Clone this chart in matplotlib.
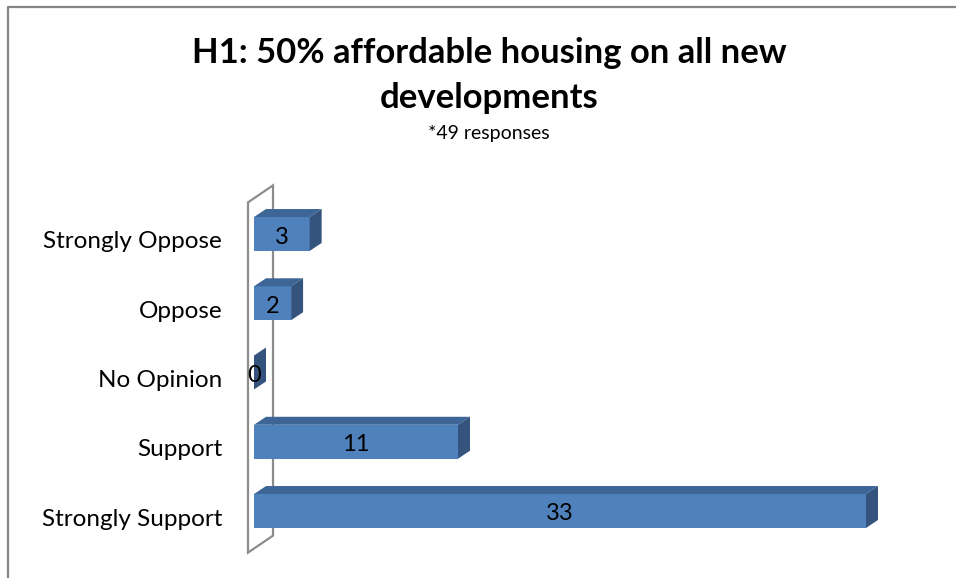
import matplotlib
matplotlib.use("Agg")
import matplotlib.pyplot as plt
from matplotlib.patches import Polygon
from matplotlib.lines import Line2D
from matplotlib.transforms import offset_copy, IdentityTransform

plt.rcParams["font.family"] = ["Lato", "DejaVu Sans"]

categories = ["Strongly Support", "Support", "No Opinion", "Oppose", "Strongly Oppose"]
counts = [33, 11, 0, 2, 3]
title_lines = ["H1: 50% affordable housing on all new", "developments"]
subtitle = "*49 responses"

W, H = 956, 578
front_col = "#4F81BD"
top_col = "#3D6696"
side_col = "#34547E"
wall_col = "#8C8C8C"
depth = (12, 8)        # bar depth in pixels (right, up)
wall_depth = (25, 17)  # side wall depth in pixels

fig = plt.figure(figsize=(W / 100, H / 100), dpi=100)
fig.patch.set_facecolor("white")

# axes placed so that the category centres and value scale sit where wanted
spacing = 69.25
ax_left, ax_right = 254, 866
ax_top = 234 - spacing / 2
ax_bot = 511 + spacing / 2
ax = fig.add_axes([ax_left / W, (H - ax_bot) / H, (ax_right - ax_left) / W, (ax_bot - ax_top) / H])
ax.set_xlim(0, max(counts))
ax.set_ylim(-0.5, len(categories) - 0.5)
ax.axis("off")

bar_h = 0.49
ypos = list(range(len(categories)))
ax.barh(ypos, counts, height=bar_h, color=front_col, edgecolor="none", zorder=3)

# side wall of the 3D plot area
td = ax.transData
x0 = td.transform((0, 0))[0] - 6
yb = td.transform((0, -0.5))[1] - 7
yt = td.transform((0, len(categories) - 0.5))[1] - 3
dxw, dyw = wall_depth
wall = Polygon([(x0, yb), (x0, yt), (x0 + dxw, yt + dyw), (x0 + dxw, yb + dyw)],
               closed=True, fill=False, edgecolor=wall_col, linewidth=1.6,
               transform=IdentityTransform(), clip_on=False, zorder=1)
ax.add_patch(wall)

# top and side faces of each bar
dx, dy = depth
for y, v in zip(ypos, counts):
    (xa, ya) = td.transform((0, y - bar_h / 2))
    (xb, yb2) = td.transform((v, y + bar_h / 2))
    top = Polygon([(xa, yb2), (xb, yb2), (xb + dx, yb2 + dy), (xa + dx, yb2 + dy)],
                  closed=True, facecolor=top_col, edgecolor="none",
                  transform=IdentityTransform(), clip_on=False, zorder=4)
    side = Polygon([(xb, ya), (xb, yb2), (xb + dx, yb2 + dy), (xb + dx, ya + dy)],
                   closed=True, facecolor=side_col, edgecolor="none",
                   transform=IdentityTransform(), clip_on=False, zorder=4)
    ax.add_patch(top)
    ax.add_patch(side)

# value labels on the front faces
val_tr = offset_copy(td, fig=fig, x=0, y=-3, units="dots")
for y, v in zip(ypos, counts):
    ax.text(v / 2, y, str(v), transform=val_tr, ha="center", va="center",
            fontsize=17, color="black", zorder=6)

# category labels
lab_tr = offset_copy(td, fig=fig, x=-32, y=-8, units="dots")
for y, c in zip(ypos, categories):
    ax.text(0, y, c, transform=lab_tr, ha="right", va="center", fontsize=17.5, color="black")

for line, ty in zip(title_lines, [53, 98]):
    fig.text(489.5 / W, 1 - ty / H, line, ha="center", va="center", fontsize=24.9,
             fontweight="bold")
fig.text(488.5 / W, 1 - 133 / H, subtitle, ha="center", va="center", fontsize=14)

# chart border
fig.add_artist(Line2D([8 / W, 8 / W, 1], [0, 1 - 7 / H, 1 - 7 / H],
                      transform=fig.transFigure, color="#868686", linewidth=1.6))

fig.savefig("out.png", dpi=100)
